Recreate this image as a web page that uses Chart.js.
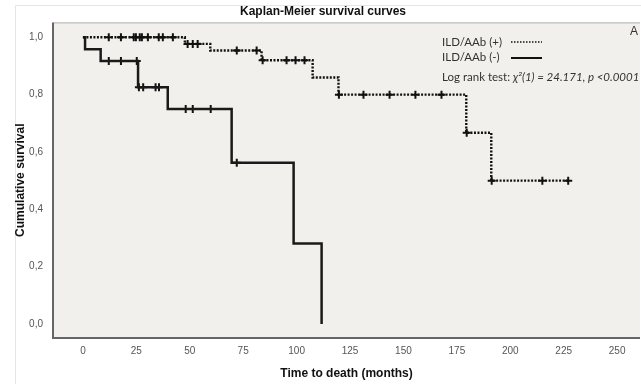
<!DOCTYPE html>
<html>
<head>
<meta charset="utf-8">
<script src="https://cdn.jsdelivr.net/npm/chart.js@4/dist/chart.umd.min.js"></script>
<style>
  html, body { margin: 0; background: #fff; overflow: hidden; }
  #wrap { width: 646px; height: 384px; }
</style>
</head>
<body>
<div id="wrap"><canvas id="km"></canvas></div>
<script>
// ILD/AAb (+): step times (months) and survival after each step
const posTimes = [0, 47.7, 59.6, 83.6, 107.5, 119.6, 179.4, 191.1, 227.1];
const posSurv  = [1, 0.977, 0.954, 0.920, 0.860, 0.800, 0.667, 0.500, 0.500];
// censored cases (+)
const posCens = [12.1, 17.8, 23.8, 24.8, 26.6, 27.6, 30.4, 35.5, 37.4, 42.1,
                 49.0, 51.4, 53.7, 72.0, 81.3, 84.1, 95.3, 99.5, 103.7,
                 119.8, 131.3, 143.5, 155.6, 167.8, 179.6, 191.3, 215.0, 227.1];

// ILD/AAb (-)
const negTimes = [0, 1.0, 8.3, 25.8, 39.7, 69.6, 98.6, 111.7];
const negSurv  = [1, 0.958, 0.917, 0.826, 0.750, 0.5625, 0.281, 0];
const negCens  = [12.1, 17.8, 25.2, 26.2, 28.2, 34.0, 35.6, 48.1, 51.4, 59.8, 72.0];

const xTicks = [0, 25, 50, 75, 100, 125, 150, 175, 200, 225, 250];
const yTicks = [0, 0.2, 0.4, 0.6, 0.8, 1.0];

// survival of a step curve at time t
function survAt(times, surv, t) {
    let s = surv[0];
    for (let i = 0; i < times.length; i++) {
        if (times[i] <= t) s = surv[i];
    }
    return s;
}
const toPts = (times, surv) => times.map((t, i) => ({x: t, y: surv[i]}));
const censPts = (cens, times, surv) => cens.map(t => ({x: t, y: survAt(times, surv, t)}));

const tickFont = {family: "'Liberation Sans Narrow', 'Liberation Sans', Arial", size: 10};
const titleFont = {family: "'Liberation Sans', Arial", size: 12, weight: 'bold'};

const panel = {
    id: 'panel',
    beforeDraw(chart) {
        const {ctx, chartArea: a} = chart;
        ctx.save();
        // faint frame of the figure
        ctx.strokeStyle = '#e4e4e4';
        ctx.lineWidth = 1;
        ctx.beginPath();
        ctx.moveTo(15.5, 384); ctx.lineTo(15.5, 5.5); ctx.lineTo(646, 5.5);
        ctx.stroke();
        ctx.fillStyle = '#f1f0ec';
        ctx.fillRect(a.left, a.top, a.right - a.left, a.bottom - a.top);
        ctx.strokeStyle = '#b0b0b0';
        ctx.beginPath(); ctx.moveTo(a.left, a.top + 0.5); ctx.lineTo(a.right, a.top + 0.5); ctx.stroke();
        ctx.strokeStyle = '#666';
        ctx.lineWidth = 2;
        ctx.beginPath();
        ctx.moveTo(a.left, a.top); ctx.lineTo(a.left, a.bottom); ctx.lineTo(a.right, a.bottom);
        ctx.stroke();
        ctx.restore();
    },
    afterDraw(chart) {
        const ctx = chart.ctx;
        ctx.save();
        ctx.fillStyle = '#333';
        ctx.textBaseline = 'middle';
        ctx.font = "11.5px Lato, 'Open Sans', sans-serif";
        ctx.fillText('ILD/AAb (+)', 442, 42);
        ctx.fillText('ILD/AAb (-)', 442, 57);
        const lead = 'Log rank test: ';
        ctx.fillText(lead, 442, 77);
        const w = ctx.measureText(lead).width;
        ctx.font = "italic 11.5px Lato, 'Open Sans', sans-serif";
        ctx.fillText('\u03c7\u00b2(1) = 24.171, p <0.0001', 442 + w, 77);
        ctx.font = "12px 'Liberation Sans', Arial";
        ctx.fillText('A', 630, 32);
        // legend samples
        ctx.strokeStyle = '#111';
        ctx.lineWidth = 1.6;
        ctx.setLineDash([1.5, 1.5]);
        ctx.beginPath(); ctx.moveTo(511, 42); ctx.lineTo(542, 42); ctx.stroke();
        ctx.setLineDash([]);
        ctx.lineWidth = 2;
        ctx.beginPath(); ctx.moveTo(511, 58); ctx.lineTo(542, 58); ctx.stroke();
        ctx.restore();
    }
};

new Chart(document.getElementById('km'), {
    type: 'scatter',
    data: {
        datasets: [{
            type: 'line',
            label: 'ILD/AAb (+)',
            data: toPts(posTimes, posSurv),
            stepped: 'before',
            borderColor: '#111',
            borderWidth: 2.4,
            borderDash: [2, 1.5],
            pointRadius: 0,
            fill: false
        }, {
            type: 'line',
            label: 'ILD/AAb (-)',
            data: toPts(negTimes, negSurv),
            stepped: 'before',
            borderColor: '#1a1a1a',
            borderWidth: 2.5,
            pointRadius: 0,
            fill: false
        }, {
            label: 'censored (+)',
            data: censPts(posCens, posTimes, posSurv),
            pointStyle: 'cross',
            pointRadius: 4,
            borderColor: '#111',
            borderWidth: 2
        }, {
            label: 'censored (-)',
            data: censPts(negCens, negTimes, negSurv),
            pointStyle: 'cross',
            pointRadius: 4,
            borderColor: '#111',
            borderWidth: 2
        }]
    },
    options: {
        responsive: true,
        maintainAspectRatio: false,
        animation: false,
        layout: {padding: 0},
        scales: {
            x: {
                type: 'linear',
                min: -14,
                max: 260.7,
                afterBuildTicks: s => { s.ticks = xTicks.map(v => ({value: v})); },
                afterFit: s => { s.height = 46; },
                grid: {display: false, drawTicks: false},
                border: {display: false},
                ticks: {font: tickFont, color: '#555', padding: 7},
                title: {display: true, text: 'Time to death (months)', font: titleFont, color: '#111', padding: {top: 0, bottom: 3}}
            },
            y: {
                min: -0.049,
                max: 1.052,
                afterBuildTicks: s => { s.ticks = yTicks.map(v => ({value: v})); },
                afterFit: s => { s.width = 53; },
                grid: {display: false, drawTicks: false},
                border: {display: false},
                ticks: {
                    font: tickFont, color: '#555', padding: 10,
                    callback: v => v.toFixed(1).replace('.', ',')
                },
                title: {display: true, text: 'Cumulative survival', font: titleFont, color: '#111', padding: {top: 13, bottom: 0}}
            }
        },
        plugins: {
            legend: {display: false},
            tooltip: {enabled: false},
            title: {
                display: true,
                text: 'Kaplan-Meier survival curves',
                font: {family: "'Liberation Sans', Arial", size: 12, weight: 'bold'},
                color: '#111',
                padding: {top: 4, bottom: 4}
            }
        }
    },
    plugins: [panel]
});
</script>
</body>
</html>
